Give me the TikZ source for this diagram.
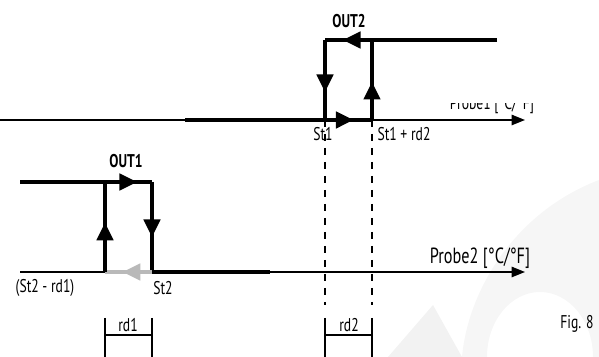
\documentclass[tikz,border=0pt]{standalone}
\usepackage{fontspec}
\setmainfont{PT Sans}[FakeStretch=0.74]
\usetikzlibrary{arrows.meta,calc}
\tikzset{
  axis/.style={line width=0.85pt,-{Triangle[length=0.27cm,width=0.21cm]}},
  heavy/.style={line width=2.2pt},
  faded/.style={line width=1.8pt,gray!55},
  headarr/.style={line width=1pt,-{Triangle[length=0.35cm,width=0.34cm]}},
  dashv/.style={line width=1.1pt,dash pattern=on 0.15cm off 0.13cm},
  brk/.style={line width=1.1pt},
  lbl/.style={font=\fontsize{10.5}{12}\selectfont,inner sep=0pt},
  biglbl/.style={font=\fontsize{12.5}{14}\selectfont,inner sep=0pt},
  outlbl/.style={font=\fontsize{10.5}{12}\selectfont\bfseries,inner sep=0pt},
}
\newcommand{\headat}[4][]{\draw[headarr,#1] ($(#2)!#4-0.05!(#3)$) -- ($(#2)!#4!(#3)$);}
\begin{document}
\begin{tikzpicture}[x=0.02cm,y=-0.02cm]
\useasboundingbox (0,0) rectangle (599,357);
% watermark
\fill[gray!7] (462,357) .. controls (468,290) and (515,212) .. (599,180) -- (599,357) -- (593,357)
  arc[start angle=0,end angle=180,x radius=53*0.02cm,y radius=65*0.02cm] -- cycle;
\fill[gray!10] (388,357) -- (433,305) -- (462,357) -- cycle;
% coordinates
\coordinate (a1s) at (0,120);
\coordinate (a1e) at (525,120);
\coordinate (t0) at (185,120);
\coordinate (s1) at (325,120);
\coordinate (s1r) at (372,120);
\coordinate (o2l) at (325,40);
\coordinate (o2m) at (372,40);
\coordinate (o2r) at (497,40);
\coordinate (a2s) at (20,272);
\coordinate (a2e) at (525,272);
\coordinate (b0) at (105,272);
\coordinate (b1) at (152,272);
\coordinate (b2) at (270,272);
\coordinate (o1l) at (20,182);
\coordinate (o1a) at (105,182);
\coordinate (o1r) at (152,182);
\coordinate (d1) at (325,305);
\coordinate (d2) at (372,305);
\coordinate (r1a) at (105,318);
\coordinate (r1b) at (152,318);
\coordinate (r1c) at (105,357);
\coordinate (r1d) at (152,357);
\coordinate (r2a) at (325,318);
\coordinate (r2b) at (372,318);
\coordinate (r2c) at (325,357);
\coordinate (r2d) at (372,357);
\coordinate (h1a) at (105,335);
\coordinate (h1b) at (152,335);
\coordinate (h2a) at (325,335);
\coordinate (h2b) at (372,335);
% axes
\draw[axis] (a1s) -- (a1e);
\draw[axis] (a2s) -- (a2e);
% dashed
\draw[dashv] (s1) -- (d1);
\draw[dashv] (s1r) -- (d2);
% OUT2
\draw[heavy] (t0) -- (s1r);
\draw[heavy] (s1r) -- (o2m);
\draw[heavy] (o2r) -- (o2l);
\draw[heavy] (o2l) -- (s1);
\headat{t0}{s1r}{0.9}
\headat{s1r}{o2m}{0.475}
\headat{o2r}{o2l}{0.895}
\headat{o2l}{s1}{0.65}
% OUT1
\draw[heavy] (o1l) -- (o1r);
\draw[heavy] (o1r) -- (b1);
\draw[heavy] (b1) -- (b2);
\draw[faded] (b1) -- (b0);
\draw[heavy] (b0) -- (o1a);
\headat{o1l}{o1r}{0.886}
\headat{o1r}{b1}{0.61}
\headat[gray!55]{b1}{b0}{0.62}
\headat{b0}{o1a}{0.545}
% brackets
\draw[brk] (r1a) -- (r1c) (r1b) -- (r1d) (h1a) -- (h1b);
\draw[brk] (r2a) -- (r2c) (r2b) -- (r2d) (h2a) -- (h2b);
% labels
\node[outlbl] (out2) at (349,21) {OUT2};
\node[outlbl] (out1) at (126,161) {OUT1};
\begin{scope}
\clip (420,104) rectangle (540,115);
\node[lbl,anchor=base] (p1) at (492,110) {Probe1 [°C/°F]};
\end{scope}
\node[lbl] (st1) at (323,134) {St1};
\node[lbl] (st1rd2) at (404,134) {St1 + rd2};
\node[lbl] (st2rd1) at (45,288) {(St2 - rd1)};
\node[lbl] (st2) at (163,288) {St2};
\node[biglbl] (p2) at (480,258) {Probe2 [°C/°F]};
\node[lbl] (rd1) at (128,325) {rd1};
\node[lbl] (rd2) at (349,325) {rd2};
\node[lbl] (fig) at (577,324) {Fig. 8};
\end{tikzpicture}
\end{document}
